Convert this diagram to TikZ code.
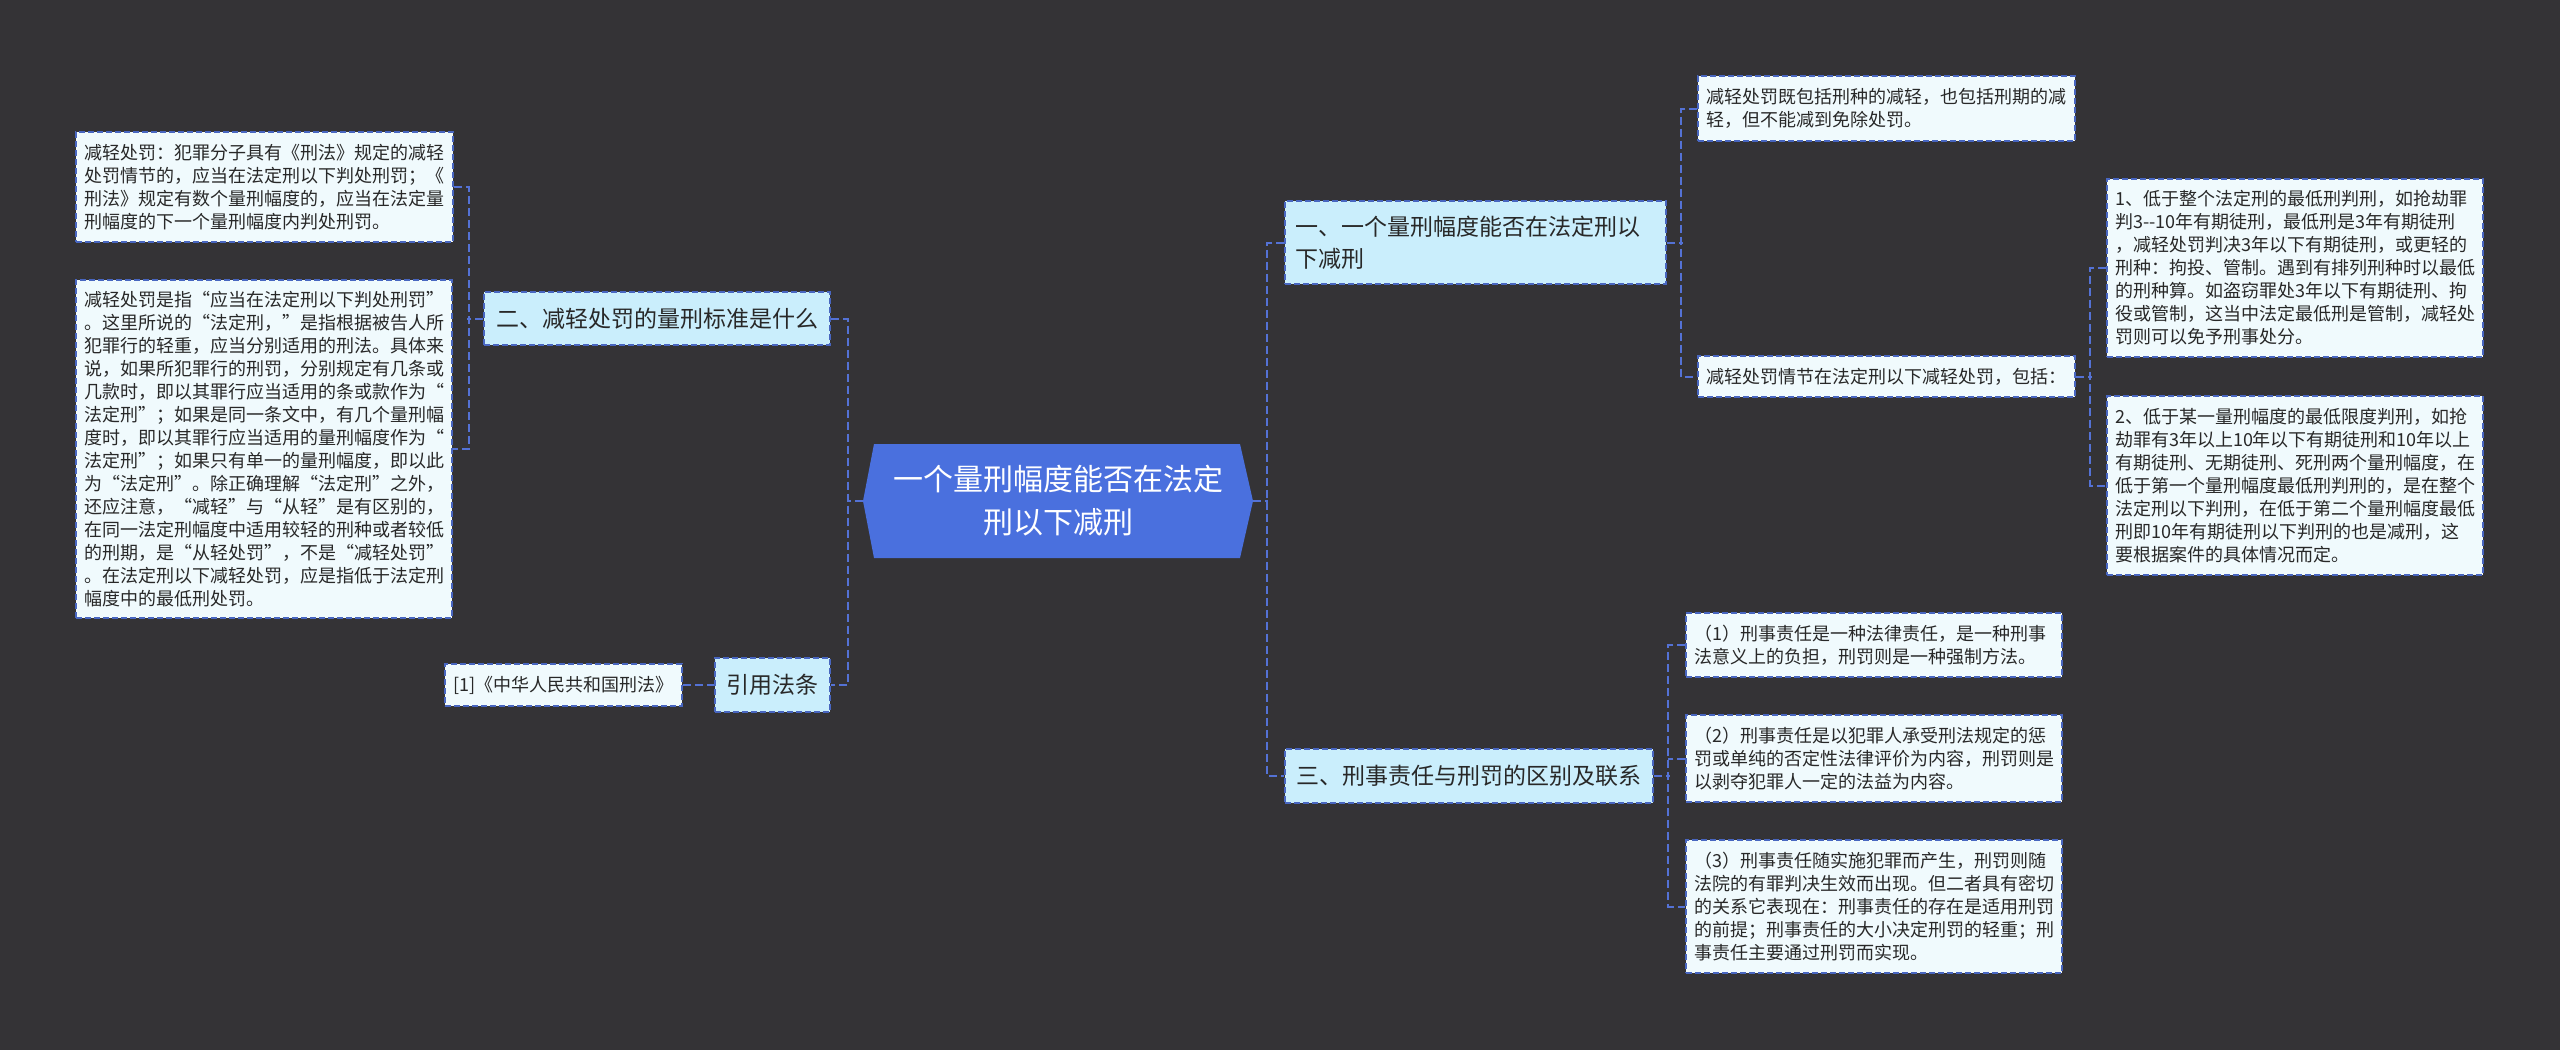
\documentclass[tikz,border=0pt]{standalone}
\usepackage{fontspec}
\setmainfont{Noto Sans CJK SC}
\definecolor{bgc}{RGB}{52,51,54}
\definecolor{connc}{RGB}{84,114,214}
\definecolor{bordc}{RGB}{72,102,192}
\definecolor{lvfill}{RGB}{202,238,252}
\definecolor{leaffill}{RGB}{240,250,253}
\definecolor{rootfill}{RGB}{74,112,222}
\definecolor{txtc}{RGB}{40,40,40}
\tikzset{
  conn/.style={draw=connc, line width=2pt, dash pattern=on 8pt off 4pt},
  boxbase/.style={draw=bordc, line width=1.5pt, dash pattern=on 6pt off 3pt, text=txtc, inner ysep=0pt, rectangle},
  lvlone/.style={boxbase, fill=lvfill, font=\fontsize{23}{32}\selectfont, inner xsep=10pt, align=left},
  leafbox/.style={boxbase, fill=leaffill, font=\fontsize{18}{23}\selectfont, inner xsep=8pt, align=left},
  rootnode/.style={text=white, font=\fontsize{30}{43}\selectfont, align=center, inner sep=0pt, minimum width=390pt, minimum height=114pt}
}
\begin{document}
\begin{tikzpicture}[x=1pt,y=-1pt]
\useasboundingbox (0,0) rectangle (2560,1050);
\fill[bgc] (0,0) rectangle (2560,1050);
% root shape
\fill[rootfill] (863,501) -- (874,444) -- (1240,444) -- (1253,501) -- (1240,558) -- (874,558) -- cycle;
\node[rootnode] (root) at (1058,501) {一个量刑幅度能否在法定\\刑以下减刑};

% level one
\node[lvlone, minimum width=346pt, minimum height=53pt, align=center] (A) at (657,318.5) {二、减轻处罚的量刑标准是什么};
\node[lvlone, minimum width=115pt, minimum height=54pt, align=center] (B) at (772.5,685) {引用法条};
\node[lvlone, minimum width=381pt, minimum height=83pt, text width=361pt] (C) at (1475.5,242.5) {一、一个量刑幅度能否在法定刑以\\下减刑};
\node[lvlone, minimum width=368pt, minimum height=54pt, align=center] (D) at (1469,776) {三、刑事责任与刑罚的区别及联系};

% left leaves
\node[leafbox, minimum width=377pt, minimum height=110pt, text width=361pt] (L1) at (264.5,187) {减轻处罚：犯罪分子具有《刑法》规定的减轻\\处罚情节的，应当在法定刑以下判处刑罚；《\\刑法》规定有数个量刑幅度的，应当在法定量\\刑幅度的下一个量刑幅度内判处刑罚。};
\node[leafbox, minimum width=376pt, minimum height=338pt, text width=360pt] (L2) at (264,449) {减轻处罚是指“应当在法定刑以下判处刑罚”\\。这里所说的“法定刑，”是指根据被告人所\\犯罪行的轻重，应当分别适用的刑法。具体来\\说，如果所犯罪行的刑罚，分别规定有几条或\\几款时，即以其罪行应当适用的条或款作为“\\法定刑”；如果是同一条文中，有几个量刑幅\\度时，即以其罪行应当适用的量刑幅度作为“\\法定刑”；如果只有单一的量刑幅度，即以此\\为“法定刑”。除正确理解“法定刑”之外，\\还应注意，“减轻”与“从轻”是有区别的，\\在同一法定刑幅度中适用较轻的刑种或者较低\\的刑期，是“从轻处罚”，不是“减轻处罚”\\。在法定刑以下减轻处罚，应是指低于法定刑\\幅度中的最低刑处罚。};
\node[leafbox, minimum width=237pt, minimum height=42pt, align=center] (Lref) at (563.5,685) {[1]《中华人民共和国刑法》};

% right leaves of C
\node[leafbox, minimum width=377pt, minimum height=65pt, text width=361pt] (R1) at (1886.5,108.5) {减轻处罚既包括刑种的减轻，也包括刑期的减\\轻，但不能减到免除处罚。};
\node[leafbox, minimum width=377pt, minimum height=41pt, text width=361pt] (R2) at (1886.5,376.5) {减轻处罚情节在法定刑以下减轻处罚，包括：};
\node[leafbox, minimum width=376pt, minimum height=178pt, text width=360pt] (R3) at (2295,268) {1、低于整个法定刑的最低刑判刑，如抢劫罪\\判3-{}-10年有期徒刑，最低刑是3年有期徒刑\\，减轻处罚判决3年以下有期徒刑，或更轻的\\刑种：拘投、管制。遇到有排列刑种时以最低\\的刑种算。如盗窃罪处3年以下有期徒刑、拘\\役或管制，这当中法定最低刑是管制，减轻处\\罚则可以免予刑事处分。};
\node[leafbox, minimum width=376pt, minimum height=179pt, text width=360pt] (R4) at (2295,485.5) {2、低于某一量刑幅度的最低限度判刑，如抢\\劫罪有3年以上10年以下有期徒刑和10年以上\\有期徒刑、无期徒刑、死刑两个量刑幅度，在\\低于第一个量刑幅度最低刑判刑的，是在整个\\法定刑以下判刑，在低于第二个量刑幅度最低\\刑即10年有期徒刑以下判刑的也是减刑，这\\要根据案件的具体情况而定。};

% right leaves of D
\node[leafbox, minimum width=376pt, minimum height=64pt, text width=360pt] (D1) at (1874,645) {（1）刑事责任是一种法律责任，是一种刑事\\法意义上的负担，刑罚则是一种强制方法。};
\node[leafbox, minimum width=376pt, minimum height=87pt, text width=360pt] (D2) at (1874,758.5) {（2）刑事责任是以犯罪人承受刑法规定的惩\\罚或单纯的否定性法律评价为内容，刑罚则是\\以剥夺犯罪人一定的法益为内容。};
\node[leafbox, minimum width=376pt, minimum height=133pt, text width=360pt] (D3) at (1874,906.5) {（3）刑事责任随实施犯罪而产生，刑罚则随\\法院的有罪判决生效而出现。但二者具有密切\\的关系它表现在：刑事责任的存在是适用刑罚\\的前提；刑事责任的大小决定刑罚的轻重；刑\\事责任主要通过刑罚而实现。};

% connectors
\draw[conn] (root.west) -- ++(-16,0);
\draw[conn] (A.east) -- ++(17,0) |- (B.east);
\draw[conn] (root.east) -- ++(15,0);
\draw[conn] (C.west) -- ++(-17,0) |- (D.west);
\draw[conn] (A.west) -- ++(-16,0);
\draw[conn] (L1.east) -- ++(15,0) |- (L2.east);
\draw[conn] (Lref.east) -- (B.west);
\draw[conn] (C.east) -- ++(16,0);
\draw[conn] (R1.west) -- ++(-16,0) |- (R2.west);
\draw[conn] (R2.east) -- ++(16,0);
\draw[conn] (R3.west) -- ++(-16,0) |- (R4.west);
\draw[conn] (D.east) -- ++(16,0);
\draw[conn] (D1.west) -- ++(-17,0) |- (D3.west);
\draw[conn] (D2.west) -- ++(-17,0);
\end{tikzpicture}
\end{document}
